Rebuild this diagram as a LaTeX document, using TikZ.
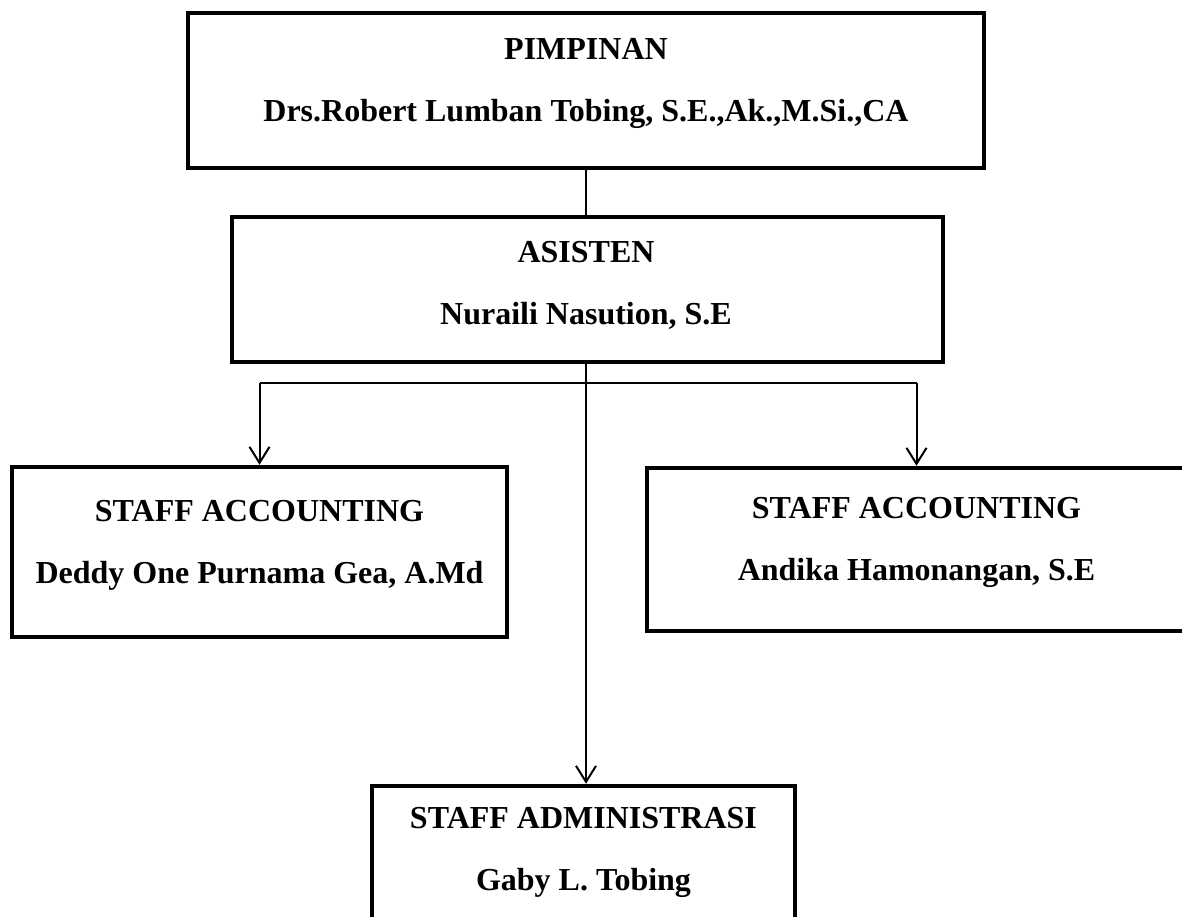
\documentclass[tikz,border=0pt]{standalone}
\usepackage{fontspec}
\setmainfont{Liberation Serif}
\usetikzlibrary{arrows.meta,calc}

\begin{document}
\begin{tikzpicture}[x=1pt,y=-1pt]
\path [use as bounding box] (0,0) rectangle (1182,916);
\tikzstyle{box} = [draw, rectangle, line width=4.5pt, inner sep=0pt]
\tikzstyle{boxtext} = [align=center, inner sep=0pt, font=\fontsize{32}{62}\selectfont\bfseries]
\tikzstyle{arr} = [-{Straight Barb[length=16pt,width=20pt]}]
% boxes
\node[box, minimum width=796, minimum height=155] (pim) at (586,90.5) {};
\node[box, minimum width=711, minimum height=145] (asis) at (587.5,289.5) {};
\node[box, minimum width=495, minimum height=170] (accL) at (259.5,552) {};
\node[box, minimum width=539, minimum height=163] (accR) at (916.5,549.5) {};
\node[box, minimum width=423, minimum height=146] (adm) at (583.5,859) {};
% texts
\node[boxtext] (pimT) at (586,83) {PIMPINAN\\Drs.Robert Lumban Tobing, S.E.,Ak.,M.Si.,CA};
\node[boxtext] (asisT) at (586,285) {ASISTEN\\Nuraili Nasution, S.E};
\node[boxtext] (accLT) at (259.5,545) {STAFF ACCOUNTING\\Deddy One Purnama Gea, A.Md};
\node[boxtext] (accRT) at (916.5,542) {STAFF ACCOUNTING\\Andika Hamonangan, S.E};
\node[boxtext] (admT) at (583.5,852) {STAFF ADMINISTRASI\\Gaby L. Tobing};
% lines
\coordinate (split) at (586,383);
\begin{scope}[line width=2pt]
\draw (pim.south) -- (pim.south |- asis.north);
\draw (accL.north |- split) -- (accR.north |- split);
\draw[arr] (accL.north |- split) -- (accL.north);
\draw[arr] (accR.north |- split) -- (accR.north);
\draw[arr] (pim.south |- asis.south) -- (pim.south |- adm.north);
\end{scope}
\end{tikzpicture}
\end{document}
